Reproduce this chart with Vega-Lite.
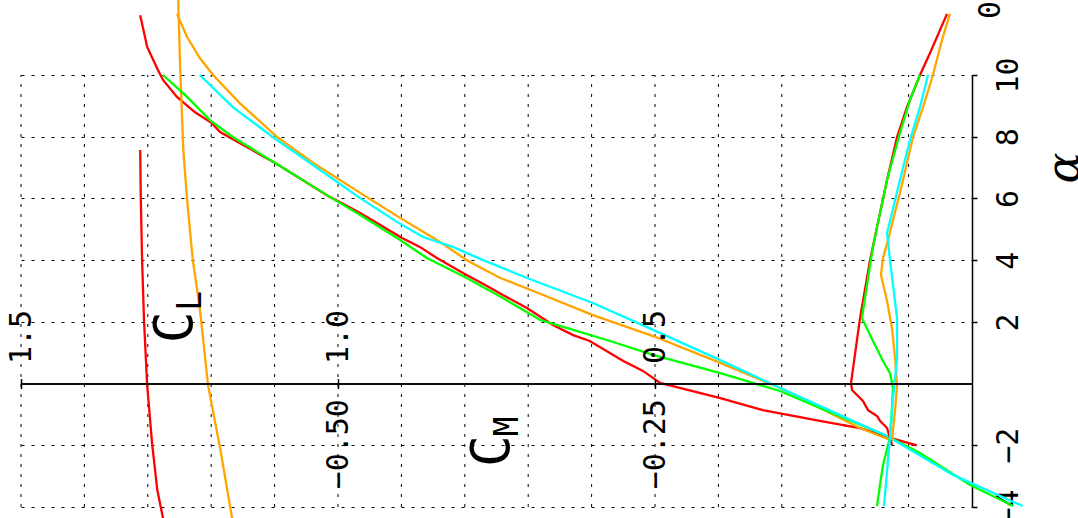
{
  "$schema": "https://vega.github.io/schema/vega-lite/v6.json",
  "width": 951,
  "height": 432,
  "autosize": {"type": "none"},
  "padding": {"left": 21, "top": 75, "right": 106, "bottom": 11},
  "background": "white",
  "config": {"view": {"stroke": null}},
  "datasets": {
    "grid": [
      {"g": 0.1}, {"g": 0.2}, {"g": 0.3}, {"g": 0.4}, {"g": 0.5},
      {"g": 0.6}, {"g": 0.7}, {"g": 0.8}, {"g": 0.9}, {"g": 1.0},
      {"g": 1.1}, {"g": 1.2}, {"g": 1.3}, {"g": 1.4}, {"g": 1.5}
    ],
    "notes": [
      {"g": "big", "t": "C", "x": 1.256, "a": 1.82},
      {"g": "big", "t": "C", "x": 0.7555, "a": -2.19},
      {"g": "small", "t": "L", "x": 1.232, "a": 2.68},
      {"g": "small", "t": "M", "x": 0.732, "a": -1.39},
      {"g": "alpha", "t": "α", "x": -0.147, "a": 6.99},
      {"g": "zero", "t": "0", "x": -0.03, "a": 12.11}
    ],
    "curves": [
      {"s": "red", "k": "CL", "a": -2.0, "v": 0.087},
      {"s": "red", "k": "CL", "a": -1.76, "v": 0.129},
      {"s": "red", "k": "CL", "a": -1.44, "v": 0.177},
      {"s": "red", "k": "CL", "a": -1.21, "v": 0.240},
      {"s": "red", "k": "CL", "a": -0.86, "v": 0.330},
      {"s": "red", "k": "CL", "a": -0.47, "v": 0.397},
      {"s": "red", "k": "CL", "a": 0.02, "v": 0.492},
      {"s": "red", "k": "CL", "a": 0.41, "v": 0.519},
      {"s": "red", "k": "CL", "a": 0.73, "v": 0.550},
      {"s": "red", "k": "CL", "a": 1.38, "v": 0.603},
      {"s": "red", "k": "CL", "a": 1.57, "v": 0.629},
      {"s": "red", "k": "CL", "a": 1.90, "v": 0.661},
      {"s": "red", "k": "CL", "a": 2.45, "v": 0.702},
      {"s": "red", "k": "CL", "a": 2.87, "v": 0.740},
      {"s": "red", "k": "CL", "a": 3.16, "v": 0.765},
      {"s": "red", "k": "CL", "a": 3.58, "v": 0.803},
      {"s": "red", "k": "CL", "a": 4.07, "v": 0.844},
      {"s": "red", "k": "CL", "a": 4.43, "v": 0.871},
      {"s": "red", "k": "CL", "a": 4.72, "v": 0.899},
      {"s": "red", "k": "CL", "a": 5.53, "v": 0.965},
      {"s": "red", "k": "CL", "a": 6.05, "v": 1.013},
      {"s": "red", "k": "CL", "a": 7.15, "v": 1.099},
      {"s": "red", "k": "CL", "a": 8.15, "v": 1.186},
      {"s": "red", "k": "CL", "a": 8.44, "v": 1.199},
      {"s": "red", "k": "CL", "a": 8.80, "v": 1.226},
      {"s": "red", "k": "CL", "a": 9.29, "v": 1.254},
      {"s": "red", "k": "CL", "a": 9.84, "v": 1.276},
      {"s": "red", "k": "CL", "a": 10.16, "v": 1.284},
      {"s": "red", "k": "CL", "a": 10.91, "v": 1.301},
      {"s": "red", "k": "CL", "a": 11.94, "v": 1.312},
      {"s": "red", "k": "CL2", "a": 7.57, "v": 1.312},
      {"s": "red", "k": "CL2", "a": 5.95, "v": 1.311},
      {"s": "red", "k": "CL2", "a": 4.0, "v": 1.309},
      {"s": "red", "k": "CL2", "a": 2.06, "v": 1.306},
      {"s": "red", "k": "CL2", "a": -0.05, "v": 1.301},
      {"s": "red", "k": "CL2", "a": -1.99, "v": 1.293},
      {"s": "red", "k": "CL2", "a": -3.45, "v": 1.285},
      {"s": "red", "k": "CL2", "a": -4.36, "v": 1.276},
      {"s": "orange", "k": "CL2", "a": 12.43, "v": 1.252},
      {"s": "orange", "k": "CL2", "a": 10.26, "v": 1.249},
      {"s": "orange", "k": "CL2", "a": 7.57, "v": 1.244},
      {"s": "orange", "k": "CL2", "a": 5.95, "v": 1.238},
      {"s": "orange", "k": "CL2", "a": 4.0, "v": 1.229},
      {"s": "orange", "k": "CL2", "a": 2.45, "v": 1.218},
      {"s": "orange", "k": "CL2", "a": -0.05, "v": 1.205},
      {"s": "orange", "k": "CL2", "a": -2.09, "v": 1.186},
      {"s": "orange", "k": "CL2", "a": -4.36, "v": 1.167},
      {"s": "orange", "k": "CL", "a": 11.98, "v": 1.254},
      {"s": "orange", "k": "CL", "a": 11.23, "v": 1.238},
      {"s": "orange", "k": "CL", "a": 10.55, "v": 1.218},
      {"s": "orange", "k": "CL", "a": 10.0, "v": 1.197},
      {"s": "orange", "k": "CL", "a": 9.09, "v": 1.155},
      {"s": "orange", "k": "CL", "a": 7.99, "v": 1.096},
      {"s": "orange", "k": "CL", "a": 7.15, "v": 1.039},
      {"s": "orange", "k": "CL", "a": 6.18, "v": 0.965},
      {"s": "orange", "k": "CL", "a": 5.37, "v": 0.902},
      {"s": "orange", "k": "CL", "a": 4.59, "v": 0.839},
      {"s": "orange", "k": "CL", "a": 4.0, "v": 0.797},
      {"s": "orange", "k": "CL", "a": 3.42, "v": 0.744},
      {"s": "orange", "k": "CL", "a": 3.0, "v": 0.692},
      {"s": "orange", "k": "CL", "a": 2.22, "v": 0.598},
      {"s": "orange", "k": "CL", "a": 1.54, "v": 0.503},
      {"s": "orange", "k": "CL", "a": 0.67, "v": 0.397},
      {"s": "orange", "k": "CL", "a": -0.14, "v": 0.303},
      {"s": "orange", "k": "CL", "a": -0.79, "v": 0.240},
      {"s": "orange", "k": "CL", "a": -1.44, "v": 0.177},
      {"s": "orange", "k": "CL", "a": -1.86, "v": 0.125},
      {"s": "green", "k": "CL", "a": 10.0, "v": 1.276},
      {"s": "green", "k": "CL", "a": 9.29, "v": 1.238},
      {"s": "green", "k": "CL", "a": 8.54, "v": 1.202},
      {"s": "green", "k": "CL", "a": 7.99, "v": 1.166},
      {"s": "green", "k": "CL", "a": 7.15, "v": 1.099},
      {"s": "green", "k": "CL", "a": 6.05, "v": 1.013},
      {"s": "green", "k": "CL", "a": 5.46, "v": 0.965},
      {"s": "green", "k": "CL", "a": 4.65, "v": 0.902},
      {"s": "green", "k": "CL", "a": 4.07, "v": 0.860},
      {"s": "green", "k": "CL", "a": 3.42, "v": 0.797},
      {"s": "green", "k": "CL", "a": 2.77, "v": 0.740},
      {"s": "green", "k": "CL", "a": 2.06, "v": 0.681},
      {"s": "green", "k": "CL", "a": 1.87, "v": 0.650},
      {"s": "green", "k": "CL", "a": 1.38, "v": 0.571},
      {"s": "green", "k": "CL", "a": 0.93, "v": 0.503},
      {"s": "green", "k": "CL", "a": 0.34, "v": 0.397},
      {"s": "green", "k": "CL", "a": -0.24, "v": 0.303},
      {"s": "green", "k": "CL", "a": -0.79, "v": 0.240},
      {"s": "green", "k": "CL", "a": -1.70, "v": 0.134},
      {"s": "green", "k": "CL", "a": -2.25, "v": 0.082},
      {"s": "green", "k": "CL", "a": -3.29, "v": 0.003},
      {"s": "green", "k": "CL", "a": -3.97, "v": -0.065},
      {"s": "cyan", "k": "CL", "a": 10.0, "v": 1.218},
      {"s": "cyan", "k": "CL", "a": 8.96, "v": 1.166},
      {"s": "cyan", "k": "CL", "a": 7.99, "v": 1.103},
      {"s": "cyan", "k": "CL", "a": 7.15, "v": 1.044},
      {"s": "cyan", "k": "CL", "a": 6.01, "v": 0.965},
      {"s": "cyan", "k": "CL", "a": 5.24, "v": 0.907},
      {"s": "cyan", "k": "CL", "a": 4.75, "v": 0.866},
      {"s": "cyan", "k": "CL", "a": 4.43, "v": 0.819},
      {"s": "cyan", "k": "CL", "a": 4.0, "v": 0.771},
      {"s": "cyan", "k": "CL", "a": 3.42, "v": 0.702},
      {"s": "cyan", "k": "CL", "a": 2.61, "v": 0.598},
      {"s": "cyan", "k": "CL", "a": 1.74, "v": 0.503},
      {"s": "cyan", "k": "CL", "a": 0.76, "v": 0.397},
      {"s": "cyan", "k": "CL", "a": -0.14, "v": 0.303},
      {"s": "cyan", "k": "CL", "a": -1.21, "v": 0.188},
      {"s": "cyan", "k": "CL", "a": -1.70, "v": 0.134},
      {"s": "cyan", "k": "CL", "a": -2.96, "v": 0.030},
      {"s": "cyan", "k": "CL", "a": -3.97, "v": -0.080},
      {"s": "red", "k": "CM", "a": 11.98, "v": -0.0197},
      {"s": "red", "k": "CM", "a": 10.71, "v": -0.0331},
      {"s": "red", "k": "CM", "a": 10.0, "v": -0.0410},
      {"s": "red", "k": "CM", "a": 8.96, "v": -0.0513},
      {"s": "red", "k": "CM", "a": 7.99, "v": -0.0591},
      {"s": "red", "k": "CM", "a": 6.60, "v": -0.0670},
      {"s": "red", "k": "CM", "a": 5.07, "v": -0.0749},
      {"s": "red", "k": "CM", "a": 4.0, "v": -0.0804},
      {"s": "red", "k": "CM", "a": 2.12, "v": -0.0883},
      {"s": "red", "k": "CM", "a": 0.02, "v": -0.0954},
      {"s": "red", "k": "CM", "a": -0.21, "v": -0.0946},
      {"s": "red", "k": "CM", "a": -0.56, "v": -0.0860},
      {"s": "red", "k": "CM", "a": -0.86, "v": -0.0820},
      {"s": "red", "k": "CM", "a": -1.05, "v": -0.0749},
      {"s": "red", "k": "CM", "a": -1.21, "v": -0.0726},
      {"s": "red", "k": "CM", "a": -1.44, "v": -0.0670},
      {"s": "red", "k": "CM", "a": -1.99, "v": -0.0631},
      {"s": "orange", "k": "CM", "a": 11.98, "v": -0.0174},
      {"s": "orange", "k": "CM", "a": 11.13, "v": -0.0237},
      {"s": "orange", "k": "CM", "a": 10.0, "v": -0.0308},
      {"s": "orange", "k": "CM", "a": 8.96, "v": -0.0386},
      {"s": "orange", "k": "CM", "a": 7.99, "v": -0.0465},
      {"s": "orange", "k": "CM", "a": 7.15, "v": -0.0513},
      {"s": "orange", "k": "CM", "a": 6.18, "v": -0.0568},
      {"s": "orange", "k": "CM", "a": 5.30, "v": -0.0623},
      {"s": "orange", "k": "CM", "a": 4.65, "v": -0.0662},
      {"s": "orange", "k": "CM", "a": 4.07, "v": -0.0702},
      {"s": "orange", "k": "CM", "a": 3.52, "v": -0.0718},
      {"s": "orange", "k": "CM", "a": 2.68, "v": -0.0670},
      {"s": "orange", "k": "CM", "a": 1.80, "v": -0.0631},
      {"s": "orange", "k": "CM", "a": 0.83, "v": -0.0607},
      {"s": "orange", "k": "CM", "a": -0.05, "v": -0.0591},
      {"s": "orange", "k": "CM", "a": -0.89, "v": -0.0607},
      {"s": "orange", "k": "CM", "a": -1.83, "v": -0.0631},
      {"s": "green", "k": "CM", "a": 10.0, "v": -0.0410},
      {"s": "green", "k": "CM", "a": 9.19, "v": -0.0489},
      {"s": "green", "k": "CM", "a": 8.12, "v": -0.0568},
      {"s": "green", "k": "CM", "a": 6.60, "v": -0.0670},
      {"s": "green", "k": "CM", "a": 5.07, "v": -0.0749},
      {"s": "green", "k": "CM", "a": 4.23, "v": -0.0789},
      {"s": "green", "k": "CM", "a": 2.12, "v": -0.0868},
      {"s": "green", "k": "CM", "a": 1.38, "v": -0.0781},
      {"s": "green", "k": "CM", "a": 0.73, "v": -0.0702},
      {"s": "green", "k": "CM", "a": 0.34, "v": -0.0647},
      {"s": "green", "k": "CM", "a": -0.14, "v": -0.0623},
      {"s": "green", "k": "CM", "a": -0.79, "v": -0.0631},
      {"s": "green", "k": "CM", "a": -1.76, "v": -0.0647},
      {"s": "green", "k": "CM", "a": -2.64, "v": -0.0702},
      {"s": "green", "k": "CM", "a": -3.29, "v": -0.0726},
      {"s": "green", "k": "CM", "a": -3.97, "v": -0.0749},
      {"s": "cyan", "k": "CM", "a": 10.0, "v": -0.0347},
      {"s": "cyan", "k": "CM", "a": 8.96, "v": -0.0410},
      {"s": "cyan", "k": "CM", "a": 7.89, "v": -0.0489},
      {"s": "cyan", "k": "CM", "a": 6.60, "v": -0.0568},
      {"s": "cyan", "k": "CM", "a": 5.53, "v": -0.0631},
      {"s": "cyan", "k": "CM", "a": 4.88, "v": -0.0670},
      {"s": "cyan", "k": "CM", "a": 4.0, "v": -0.0647},
      {"s": "cyan", "k": "CM", "a": 3.19, "v": -0.0623},
      {"s": "cyan", "k": "CM", "a": 2.12, "v": -0.0591},
      {"s": "cyan", "k": "CM", "a": 0.83, "v": -0.0591},
      {"s": "cyan", "k": "CM", "a": -0.47, "v": -0.0623},
      {"s": "cyan", "k": "CM", "a": -1.76, "v": -0.0647},
      {"s": "cyan", "k": "CM", "a": -2.83, "v": -0.0670},
      {"s": "cyan", "k": "CM", "a": -3.97, "v": -0.0694}
    ]
  },
  "layer": [
    {
      "layer": [
        {
          "data": {"name": "grid"},
          "mark": {"type": "rule", "color": "black", "strokeWidth": 1, "strokeDash": [3, 7], "clip": false},
          "encoding": {
            "x": {
              "field": "g", "type": "quantitative",
              "scale": {"domain": [0, 1.5], "reverse": true, "nice": false, "zero": false},
              "axis": {
                "orient": "top", "offset": -308.57, "values": [0.5, 1, 1.5], "format": ".1f",
                "grid": false, "domain": true, "domainColor": "black", "domainWidth": 1.5,
                "ticks": true, "tickColor": "black", "tickSize": 5, "tickWidth": 1.5,
                "labelAngle": -90, "labelAlign": "left", "labelBaseline": "middle", "labelPadding": 15,
                "labelFont": "DejaVu Sans Mono", "labelFontSize": 30, "labelColor": "black",
                "labelFlush": false, "labelOverlap": false, "labelBound": false,
                "title": null, "zindex": 1
              }
            },
            "y": {"datum": -4, "type": "quantitative", "scale": {"domain": [-4, 10], "nice": false, "zero": false}, "axis": {"title": null}},
            "y2": {"datum": 10}
          }
        },
        {
          "data": {"name": "curves"},
          "transform": [{"filter": "datum.k !== 'CM'"}],
          "mark": {"type": "line", "strokeWidth": 2.3, "clip": false},
          "encoding": {
            "x": {"field": "v", "type": "quantitative", "scale": {"domain": [0, 1.5], "reverse": true, "nice": false, "zero": false}, "axis": {"title": null}},
            "y": {
              "field": "a", "type": "quantitative",
              "scale": {"domain": [-4, 10], "nice": false, "zero": false},
              "axis": {
                "orient": "right", "values": [-4, -2, 2, 4, 6, 8, 10], "format": "d",
                "grid": true, "gridDash": [3, 7], "gridColor": "black", "gridOpacity": 1, "gridWidth": 1,
                "domain": true, "domainColor": "black", "domainWidth": 1.5,
                "ticks": true, "tickColor": "black", "tickSize": 5, "tickWidth": 1.5,
                "labelAngle": -90, "labelAlign": "center", "labelBaseline": "top", "labelPadding": 16,
                "labelFont": "DejaVu Sans Mono", "labelFontSize": 30, "labelColor": "black",
                "labelFlush": false, "labelOverlap": false, "labelBound": false,
                "title": null
              }
            },
            "color": {
              "field": "s", "type": "nominal",
              "scale": {"domain": ["red", "orange", "green", "cyan"], "range": ["#ff0000", "#ffa500", "#00ff00", "#00ffff"]},
              "legend": null
            },
            "detail": {"field": "k"},
            "order": {"field": "a", "type": "quantitative"}
          }
        },
        {
          "data": {"name": "notes"},
          "transform": [{"filter": "datum.g === 'big'"}],
          "mark": {"type": "text", "font": "DejaVu Sans Mono", "fontSize": 53, "angle": 270, "align": "center", "baseline": "middle", "color": "black", "clip": false},
          "encoding": {
            "x": {"field": "x", "type": "quantitative", "scale": {"domain": [0, 1.5], "reverse": true, "nice": false, "zero": false}, "axis": {"title": null}},
            "y": {"field": "a", "type": "quantitative", "scale": {"domain": [-4, 10], "nice": false, "zero": false}, "axis": {"title": null}},
            "text": {"field": "t"}
          }
        },
        {
          "data": {"name": "notes"},
          "transform": [{"filter": "datum.g === 'small'"}],
          "mark": {"type": "text", "font": "DejaVu Sans Mono", "fontSize": 33, "angle": 270, "align": "center", "baseline": "middle", "color": "black", "clip": false},
          "encoding": {
            "x": {"field": "x", "type": "quantitative", "scale": {"domain": [0, 1.5], "reverse": true, "nice": false, "zero": false}, "axis": {"title": null}},
            "y": {"field": "a", "type": "quantitative", "scale": {"domain": [-4, 10], "nice": false, "zero": false}, "axis": {"title": null}},
            "text": {"field": "t"}
          }
        },
        {
          "data": {"name": "notes"},
          "transform": [{"filter": "datum.g === 'alpha'"}],
          "mark": {"type": "text", "font": "DejaVu Serif", "fontStyle": "italic", "fontSize": 46, "angle": 270, "align": "center", "baseline": "middle", "color": "black", "clip": false},
          "encoding": {
            "x": {"field": "x", "type": "quantitative", "scale": {"domain": [0, 1.5], "reverse": true, "nice": false, "zero": false}, "axis": {"title": null}},
            "y": {"field": "a", "type": "quantitative", "scale": {"domain": [-4, 10], "nice": false, "zero": false}, "axis": {"title": null}},
            "text": {"field": "t"}
          }
        },
        {
          "data": {"name": "notes"},
          "transform": [{"filter": "datum.g === 'zero'"}],
          "mark": {"type": "text", "font": "DejaVu Sans Mono", "fontSize": 30, "angle": 270, "align": "center", "baseline": "middle", "color": "black", "clip": false},
          "encoding": {
            "x": {"field": "x", "type": "quantitative", "scale": {"domain": [0, 1.5], "reverse": true, "nice": false, "zero": false}, "axis": {"title": null}},
            "y": {"field": "a", "type": "quantitative", "scale": {"domain": [-4, 10], "nice": false, "zero": false}, "axis": {"title": null}},
            "text": {"field": "t"}
          }
        }
      ]
    },
    {
      "data": {"name": "curves"},
      "transform": [{"filter": "datum.k === 'CM'"}],
      "mark": {"type": "line", "strokeWidth": 2.3, "clip": false},
      "encoding": {
        "x": {
          "field": "v", "type": "quantitative",
          "scale": {"domain": [-0.75, 0], "nice": false, "zero": false},
          "axis": {
            "orient": "bottom", "offset": -123.43, "values": [-0.75, -0.5, -0.25], "format": ".2f",
            "labelExpr": "datum.value < -0.7 ? '' : datum.label",
            "grid": false, "domain": true, "domainColor": "black", "domainWidth": 1.5,
            "ticks": true, "tickColor": "black", "tickSize": 5, "tickWidth": 1.5,
            "labelAngle": -90, "labelAlign": "right", "labelBaseline": "middle", "labelPadding": 10,
            "labelFont": "DejaVu Sans Mono", "labelFontSize": 30, "labelColor": "black",
            "labelFlush": false, "labelOverlap": false, "labelBound": false,
            "title": null, "zindex": 1
          }
        },
        "y": {"field": "a", "type": "quantitative", "scale": {"domain": [-4, 10], "nice": false, "zero": false}, "axis": {"title": null}},
        "color": {
          "field": "s", "type": "nominal",
          "scale": {"domain": ["red", "orange", "green", "cyan"], "range": ["#ff0000", "#ffa500", "#00ff00", "#00ffff"]},
          "legend": null
        },
        "detail": {"field": "k"},
        "order": {"field": "a", "type": "quantitative"}
      }
    }
  ],
  "resolve": {"scale": {"x": "independent"}}
}
